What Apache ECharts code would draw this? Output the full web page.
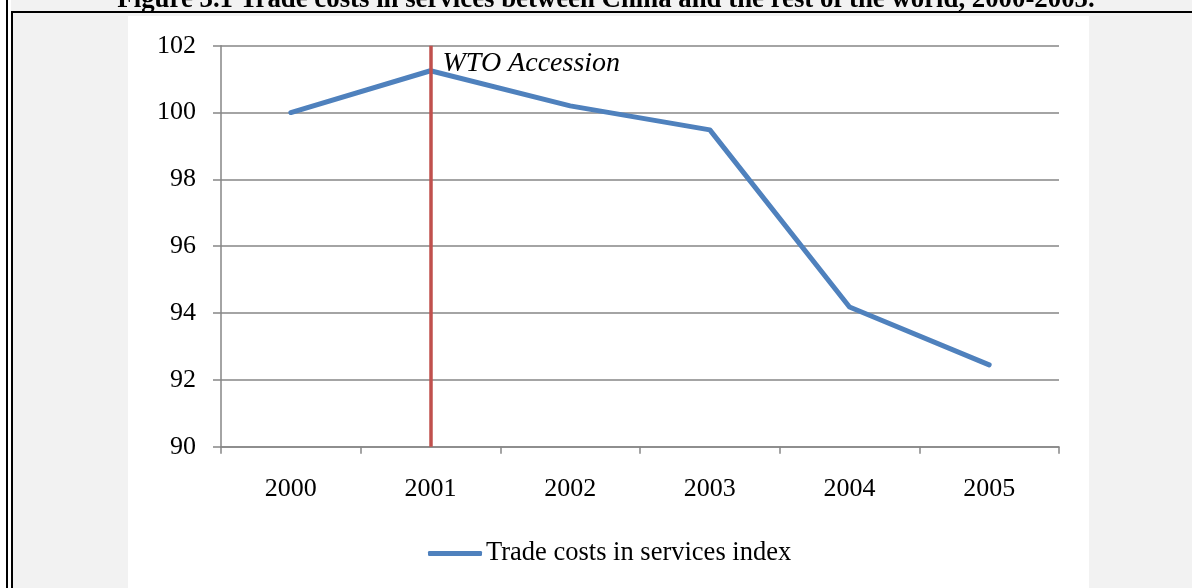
<!DOCTYPE html>
<html>
<head>
<meta charset="utf-8">
<script src="https://cdn.jsdelivr.net/npm/echarts@6/dist/echarts.min.js"></script>
<style>
html,body{margin:0;padding:0;background:#f2f2f2;}
#chart{width:1192px;height:588px;}
</style>
</head>
<body>
<div id="chart"></div>
<script>
var titleText = 'Figure 3.1 Trade costs in services between China and the rest of the world, 2000-2005.';
var categories = ['2000', '2001', '2002', '2003', '2004', '2005'];
var seriesName = 'Trade costs in services index';
var values = [100.0, 101.25, 100.2, 99.48, 94.18, 92.45];
var yTicks = { min: 90, max: 102, interval: 2 };
var accessionYear = '2001';
var accessionLabel = 'WTO Accession';

var serif = '"Liberation Serif", "Times New Roman", serif';
var chart = echarts.init(document.getElementById('chart'));
chart.setOption({
  backgroundColor: '#f2f2f2',
  animation: false,
  graphic: [
    { type: 'rect', z: -10, shape: { x: 0, y: 0, width: 6, height: 588 }, style: { fill: '#ffffff' } },
    { type: 'rect', z: -10, shape: { x: 8, y: 0, width: 3, height: 588 }, style: { fill: '#ffffff' } },
    { type: 'rect', z: -10, shape: { x: 6, y: 0, width: 2, height: 588 }, style: { fill: '#000000' } },
    { type: 'rect', z: -10, shape: { x: 11, y: 11, width: 2, height: 577 }, style: { fill: '#000000' } },
    { type: 'rect', z: -10, shape: { x: 11, y: 11, width: 1181, height: 2 }, style: { fill: '#000000' } },
    { type: 'rect', z: -10, shape: { x: 128, y: 16, width: 961, height: 572 }, style: { fill: '#ffffff' } },
    { type: 'text', z: 10, x: 606, y: 14, style: { text: titleText, font: 'bold 26.8px ' + serif, fill: '#000', align: 'center', verticalAlign: 'bottom' } }
  ],
  grid: { left: 221, right: 133, top: 45.7, bottom: 141.3, containLabel: false },
  legend: {
    show: true,
    data: [{ name: seriesName, icon: 'roundRect' }],
    left: 428, top: 540,
    orient: 'horizontal',
    padding: 0,
    itemWidth: 54, itemHeight: 5, itemGap: 10,
    textStyle: { fontFamily: serif, fontSize: 26.5, color: '#000', padding: [0, 0, 0, -1] },
    itemStyle: { color: '#4f81bd', borderWidth: 0 }
  },
  xAxis: {
    type: 'category',
    data: categories,
    boundaryGap: true,
    axisLine: { lineStyle: { color: '#868686', width: 1.5 } },
    axisTick: { show: true, alignWithLabel: false, length: 7, lineStyle: { color: '#868686', width: 1.5 } },
    axisLabel: { fontFamily: serif, fontSize: 26, color: '#000', margin: 29 },
    splitLine: { show: false }
  },
  yAxis: {
    type: 'value',
    min: yTicks.min, max: yTicks.max, interval: yTicks.interval,
    axisLine: { show: true, lineStyle: { color: '#868686', width: 1.5 } },
    axisTick: { show: true, length: 8, lineStyle: { color: '#868686', width: 1.5 } },
    axisLabel: { fontFamily: serif, fontSize: 26, color: '#000', margin: 25 },
    splitLine: { show: true, lineStyle: { color: '#868686', width: 1.5 } }
  },
  series: [{
    name: seriesName,
    type: 'line',
    data: values,
    symbol: 'none',
    lineStyle: { color: '#4f81bd', width: 5, join: 'round', cap: 'round' },
    itemStyle: { color: '#4f81bd' },
    z: 3,
    markLine: {
      silent: true,
      symbol: 'none',
      z: 4,
      label: { show: false },
      lineStyle: { color: '#c0504d', width: 3.5, type: 'solid' },
      data: [{ xAxis: accessionYear }]
    },
    markPoint: {
      silent: true,
      symbol: 'circle',
      symbolSize: 0,
      data: [{ coord: [accessionYear, yTicks.max] }],
      label: { show: true, formatter: accessionLabel, position: [12, 4], fontFamily: serif, fontStyle: 'italic', fontSize: 28, color: '#000' }
    }
  }]
});
</script>
</body>
</html>
